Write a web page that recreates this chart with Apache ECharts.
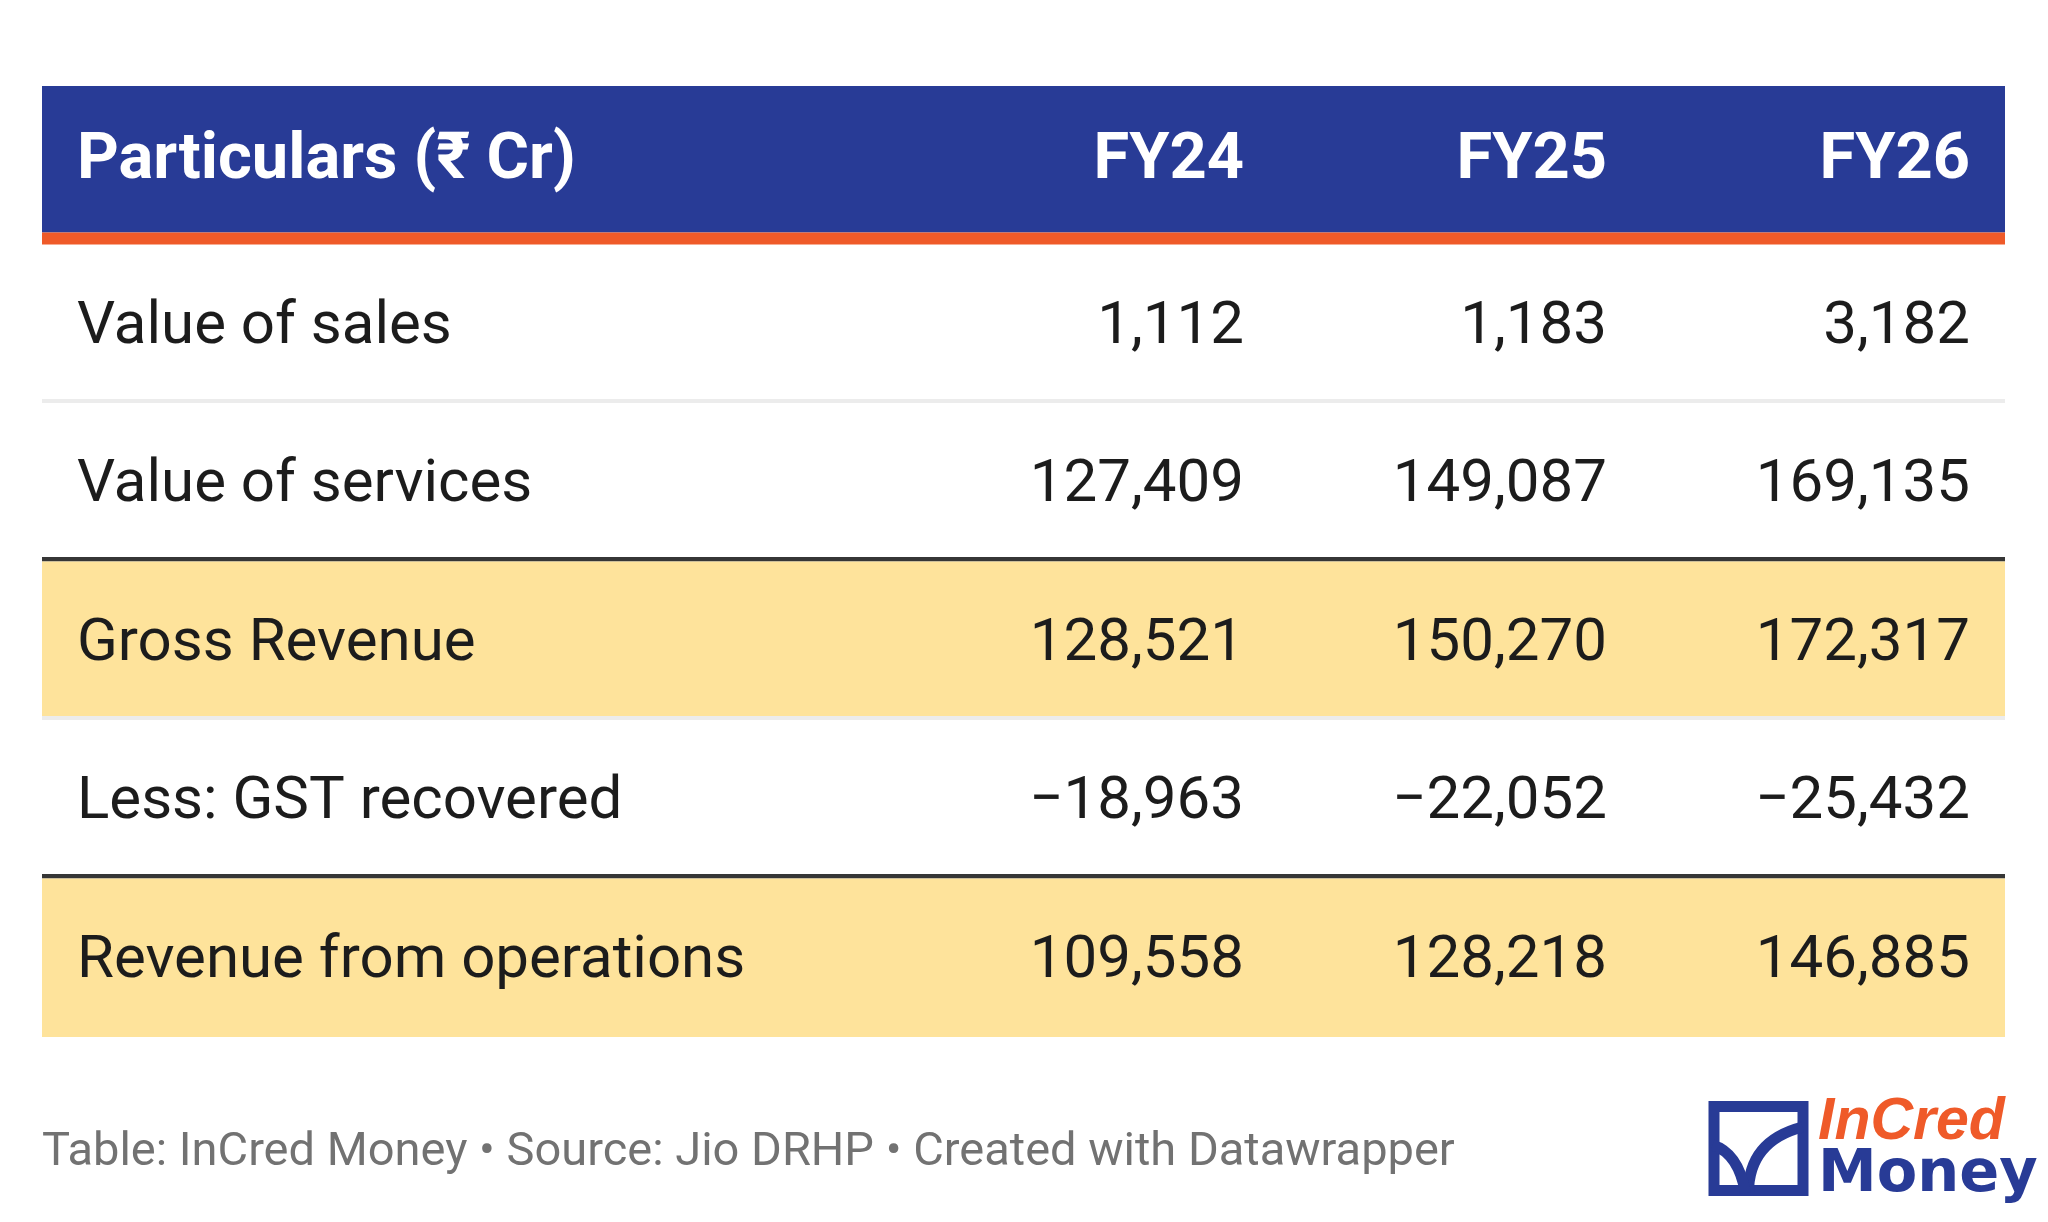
<!DOCTYPE html>
<html>
<head>
<meta charset="utf-8">
<title>Jio revenue table</title>
<script src="https://cdn.jsdelivr.net/npm/echarts@6/dist/echarts.min.js"></script>
<style>
  html, body { margin: 0; padding: 0; background: #ffffff; }
  #chart { width: 2048px; height: 1222px; }
</style>
</head>
<body>
<div id="chart"></div>
<script>
var headerLabel = 'Particulars (₹ Cr)';
var columns = ['FY24', 'FY25', 'FY26'];
var rows = ['Value of sales', 'Value of services', 'Gross Revenue', 'Less: GST recovered', 'Revenue from operations'];
var fy24 = [1112, 127409, 128521, -18963, 109558];
var fy25 = [1183, 149087, 150270, -22052, 128218];
var fy26 = [3182, 169135, 172317, -25432, 146885];
var highlighted = ['Gross Revenue', 'Revenue from operations'];

(function() {
  var blue = '#283b96';
  var orange = '#ef5a29';
  var yellow = '#fee39b';
  var ink = '#1c1c1c';
  var lightRule = '#ececec';
  var darkRule = '#363636';
  var font = 'Roboto, "Noto Sans", sans-serif';
  var tableLeft = 42;
  var pad = 35;

  var yCats = [headerLabel].concat(rows);
  var colValues = [fy24, fy25, fy26];

  function fmt(v) {
    var s = Math.abs(v).toLocaleString('en-US');
    return v < 0 ? '\u2212' + s : s;
  }

  // one background item per row (header included)
  var rowData = yCats.map(function(name, i) { return [0, i]; });

  // one text item per cell
  var cells = [];
  columns.forEach(function(col, ci) {
    cells.push({ value: [ci, 0], text: col, header: true });
    colValues[ci].forEach(function(v, ri) {
      cells.push({ value: [ci, ri + 1], text: fmt(v), header: false });
    });
  });

  function renderRow(params, api) {
    var r = api.value(1);
    var c = api.coord([0, r]);
    var s = api.size([1, 1]);
    var cs = params.coordSys;
    var top = c[1] - s[1] / 2;
    var h = s[1];
    var w = cs.x + cs.width - tableLeft;
    var kids = [];
    if (r === 0) {
      kids.push({ type: 'rect', shape: { x: tableLeft, y: top, width: w, height: h - 12 }, style: { fill: blue } });
      kids.push({ type: 'rect', shape: { x: tableLeft, y: top + h - 12, width: w, height: 12 }, style: { fill: orange } });
      kids.push({
        type: 'text', x: tableLeft + pad, y: top + (h - 12) / 2 + 2,
        style: { text: yCats[r], fill: '#ffffff', fontSize: 65, fontWeight: 'bold', fontFamily: font, align: 'left', verticalAlign: 'middle' }
      });
      return { type: 'group', children: kids };
    }
    var name = yCats[r];
    if (highlighted.indexOf(name) >= 0) {
      kids.push({ type: 'rect', shape: { x: tableLeft, y: top, width: w, height: h }, style: { fill: yellow } });
    }
    if (r < yCats.length - 1) {
      var nextHi = highlighted.indexOf(yCats[r + 1]) >= 0;
      kids.push({
        type: 'rect',
        shape: { x: tableLeft, y: top + h - (nextHi ? 4.5 : 4), width: w, height: nextHi ? 4.5 : 4 },
        style: { fill: nextHi ? darkRule : lightRule }
      });
    }
    kids.push({
      type: 'text', x: tableLeft + pad, y: top + h / 2 + 4,
      style: { text: name, fill: ink, fontSize: 60, fontFamily: font, align: 'left', verticalAlign: 'middle' }
    });
    return { type: 'group', children: kids };
  }

  function renderCell(params, api) {
    var cell = cells[params.dataIndex];
    var c = api.coord([api.value(0), api.value(1)]);
    var s = api.size([1, 1]);
    var x = c[0] + s[0] / 2 - pad;
    var y = cell.header ? c[1] - 4 : c[1] + 4;
    return {
      type: 'text', x: x, y: y,
      style: {
        text: cell.text,
        fill: cell.header ? '#ffffff' : ink,
        fontSize: cell.header ? 65 : 60,
        fontWeight: cell.header ? 'bold' : 'normal',
        fontFamily: font,
        align: 'right',
        verticalAlign: 'middle'
      }
    };
  }

  var chart = echarts.init(document.getElementById('chart'), null, { renderer: 'canvas' });
  chart.setOption({
    animation: false,
    backgroundColor: '#ffffff',
    title: {
      text: 'Table: InCred Money \u2022 Source: Jio DRHP \u2022 Created with Datawrapper',
      left: 42,
      top: 1130,
      padding: 0,
      textStyle: { color: '#727272', fontSize: 47, fontWeight: 'normal', fontFamily: font }
    },
    grid: { left: 916, right: 43, top: 86, bottom: 185 },
    xAxis: { type: 'category', data: columns, show: false },
    yAxis: { type: 'category', data: yCats, inverse: true, show: false },
    series: [
      { type: 'custom', name: 'rows', data: rowData, renderItem: renderRow, clip: false, z: 1 },
      { type: 'custom', name: 'cells', data: cells, renderItem: renderCell, clip: false, z: 2 }
    ],
    graphic: [
      {
        type: 'group', left: 1707, top: 1101,
        children: [
          { type: 'rect', shape: { x: 5.5, y: 5.5, width: 89, height: 84 }, style: { fill: 'none', stroke: blue, lineWidth: 11 } },
          { type: 'bezierCurve', shape: { x1: 40, y1: 92, cpx1: 40, cpy1: 40, x2: 94, y2: 26 }, style: { fill: 'none', stroke: blue, lineWidth: 11 } },
          { type: 'bezierCurve', shape: { x1: 4, y1: 44, cpx1: 30, cpy1: 52, x2: 37, y2: 92 }, style: { fill: 'none', stroke: blue, lineWidth: 11 } }
        ]
      },
      {
        type: 'text', left: 1818, top: 1093,
        style: { text: 'InCred', fill: orange, fontSize: 59, fontWeight: 'bold', fontStyle: 'italic', fontFamily: '"Liberation Sans", Arial, sans-serif' }
      },
      {
        type: 'text', left: 1818, top: 1146,
        style: { text: 'Money', fill: blue, fontSize: 59, fontWeight: 'bold', fontFamily: '"DejaVu Sans", sans-serif' }
      }
    ]
  });
  window.addEventListener('resize', function() { chart.resize(); });
})();
</script>
</body>
</html>
